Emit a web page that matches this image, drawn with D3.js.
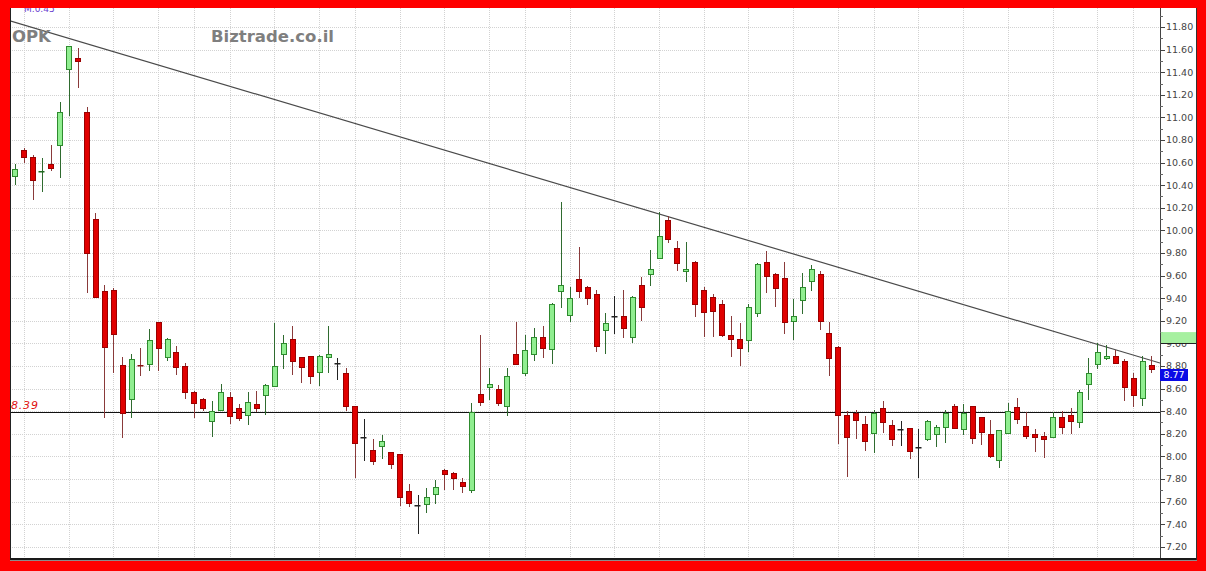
<!DOCTYPE html>
<html><head><meta charset="utf-8">
<script src="https://cdn.jsdelivr.net/npm/d3@7"></script>
<style>html,body{margin:0;padding:0;background:#fff;}svg{display:block;}</style>
</head><body>
<svg id="c" width="1206" height="571"></svg>
<script>
const symbol = "OPK";
const site = "Biztrade.co.il";
const topNote = "M.0.45";
const openV = [10.48,10.71,10.65,10.52,10.59,10.76,11.43,11.53,11.05,10.10,
9.46,9.47,8.81,8.51,8.81,8.82,9.19,8.88,8.92,8.80,
8.57,8.51,8.31,8.41,8.53,8.43,8.37,8.46,8.54,8.62,
8.91,9.04,8.88,8.89,8.75,8.88,8.83,8.74,8.45,8.17,
8.06,8.09,8.04,8.02,7.69,7.57,7.58,7.67,7.88,7.85,
7.77,7.70,8.55,8.61,8.60,8.45,8.91,8.74,8.91,9.06,
8.95,9.46,9.25,9.57,9.50,9.44,9.12,9.24,9.24,9.06,
9.52,9.61,9.76,10.09,9.84,9.64,9.72,9.47,9.41,9.35,
9.07,9.04,9.03,9.27,9.72,9.61,9.58,9.20,9.38,9.55,
9.61,9.09,8.97,8.37,8.38,8.29,8.21,8.43,8.28,8.24,
8.25,8.08,8.15,8.20,8.26,8.45,8.24,8.45,8.35,8.20,
7.97,8.21,8.44,8.27,8.20,8.18,8.17,8.35,8.37,8.30,
8.64,8.82,8.87,8.89,8.84,8.69,8.52,8.81];
const highV = [10.59,10.73,10.67,10.64,10.76,11.14,11.63,11.61,11.09,10.15,
9.52,9.49,8.88,8.91,8.96,9.13,9.19,9.05,8.98,8.83,
8.58,8.52,8.49,8.64,8.57,8.46,8.57,8.58,8.64,9.18,
9.07,9.15,8.88,8.89,8.90,9.15,8.87,8.78,8.45,8.33,
8.15,8.19,8.04,8.02,7.76,7.66,7.72,7.79,7.89,7.86,
7.81,8.47,9.07,8.78,8.63,8.78,9.19,9.07,9.14,9.15,
9.36,10.25,9.50,9.85,9.51,9.47,9.27,9.42,9.47,9.42,
9.59,9.83,10.16,10.13,9.91,9.90,9.73,9.50,9.44,9.38,
9.24,9.18,9.35,9.71,9.82,9.62,9.72,9.39,9.62,9.69,
9.64,9.19,8.98,8.40,8.41,8.36,8.41,8.49,8.32,8.31,
8.25,8.24,8.32,8.28,8.41,8.46,8.46,8.45,8.35,8.32,
8.23,8.47,8.52,8.39,8.24,8.22,8.39,8.40,8.43,8.59,
8.87,9.00,8.99,8.94,8.86,8.74,8.89,8.89];
const lowV = [10.40,10.60,10.27,10.34,10.53,10.46,11.01,11.26,9.45,9.41,
8.34,8.74,8.16,8.34,8.71,8.76,8.76,8.84,8.72,8.51,
8.34,8.40,8.17,8.40,8.29,8.31,8.28,8.39,8.37,8.62,
8.77,8.72,8.65,8.64,8.62,8.74,8.68,8.40,7.81,7.96,
7.92,7.98,7.89,7.56,7.55,7.31,7.50,7.58,7.70,7.70,
7.68,7.68,8.45,8.50,8.45,8.36,8.81,8.71,8.84,8.87,
8.82,9.31,9.19,9.40,9.34,8.92,8.91,9.08,9.05,9.00,
9.20,9.51,9.76,9.89,9.64,9.54,9.23,9.06,9.06,9.06,
8.88,8.80,8.92,9.23,9.45,9.32,9.08,9.03,9.26,9.46,
9.12,8.71,8.11,7.82,8.15,8.05,8.03,8.21,8.09,8.09,
7.98,7.81,8.14,8.08,8.12,8.24,8.19,8.11,8.10,7.99,
7.90,8.20,8.29,8.15,8.04,7.99,8.17,8.20,8.20,8.25,
8.50,8.77,8.85,8.83,8.49,8.44,8.45,8.74];
const closeV = [10.54,10.65,10.45,10.53,10.55,11.05,11.63,11.50,9.80,9.41,
8.97,9.08,8.38,8.86,8.80,9.03,8.96,9.04,8.79,8.57,
8.47,8.43,8.40,8.57,8.36,8.34,8.48,8.43,8.63,8.80,
9.00,8.84,8.79,8.71,8.89,8.91,8.83,8.45,8.12,8.17,
7.96,8.14,7.93,7.64,7.59,7.57,7.64,7.73,7.84,7.81,
7.74,8.39,8.48,8.64,8.47,8.71,8.82,8.94,9.06,8.96,
9.35,9.52,9.40,9.46,9.40,8.98,9.18,9.24,9.14,9.41,
9.32,9.66,9.95,9.92,9.71,9.66,9.35,9.28,9.29,9.07,
9.04,8.96,9.32,9.70,9.60,9.49,9.19,9.24,9.50,9.66,
9.20,8.87,8.37,8.17,8.32,8.14,8.38,8.30,8.15,8.24,
8.05,8.08,8.31,8.26,8.38,8.25,8.38,8.16,8.22,8.00,
8.23,8.40,8.33,8.18,8.17,8.15,8.35,8.26,8.31,8.57,
8.74,8.92,8.89,8.83,8.61,8.54,8.84,8.77];
const yTickLabels = ["7.20","7.40","7.60","7.80","8.00","8.20","8.40","8.60","8.80","9.00","9.20","9.40","9.60","9.80","10.00","10.20","10.40","10.60","10.80","11.00","11.20","11.40","11.60","11.80"];
const minorTicks = [7.3,7.5,7.7,7.9,8.1,8.3,8.5,8.7,8.9,9.1,9.3,9.5,9.7,9.9,10.1,10.3,10.5,10.7,10.9,11.1,11.3,11.5,11.7,11.9];
const weekGridIdx = [2,7,12,17,21,25,30,35,39,44,49,54,58,63,68,73,78,83,88,93,97,102,107,112,117,122,126];
const supportLevel = 8.39;
const lastPrice = 8.77;
const markerBand = [9.00, 9.10];
const trendAnchors = [[7, 11.70], [128, 8.85]];

const W = 1206, H = 571;
const plot = {l: 10, r: 1160, t: 8, b: 558};
const svg = d3.select("#c");
const n = openV.length;
const idx = d3.range(1, n + 1);

const x = d3.scaleBand().domain(idx).range([10.5, 1155.5]).padding(0);
const xc = i => x(i) + x.bandwidth() / 2;
const y = d3.scaleLinear().domain([7.2, 11.8]).range([546.8, 27]);

svg.append("rect").attr("x", 0).attr("y", 0).attr("width", W).attr("height", H).attr("fill", "#fff");

const defs = svg.append("defs");
defs.append("clipPath").attr("id", "pc").append("rect")
  .attr("x", plot.l).attr("y", plot.t).attr("width", plot.r - plot.l).attr("height", plot.b - plot.t);

const g = svg.append("g").attr("clip-path", "url(#pc)");

const gridCol = "#d2d2d2";
g.append("g").selectAll("line").data(yTickLabels.map(Number)).join("line")
  .attr("x1", plot.l).attr("x2", plot.r)
  .attr("y1", d => Math.round(y(d)) + 0.5).attr("y2", d => Math.round(y(d)) + 0.5)
  .attr("stroke", gridCol).attr("stroke-width", 1).attr("stroke-dasharray", "1,1");
g.append("g").selectAll("line").data(weekGridIdx).join("line")
  .attr("x1", d => Math.round(xc(d)) + 0.5).attr("x2", d => Math.round(xc(d)) + 0.5)
  .attr("y1", plot.t).attr("y2", plot.b)
  .attr("stroke", gridCol).attr("stroke-width", 1).attr("stroke-dasharray", "1,1");

g.append("line").attr("x1", plot.l).attr("x2", plot.r)
  .attr("y1", Math.round(y(supportLevel)) + 0.5).attr("y2", Math.round(y(supportLevel)) + 0.5)
  .attr("stroke", "#111").attr("stroke-width", 1);

const [a1, a2] = trendAnchors;
const px1 = xc(a1[0]), py1 = y(a1[1]), px2 = xc(a2[0]), py2 = y(a2[1]);
const slope = (py2 - py1) / (px2 - px1);
g.append("line")
  .attr("x1", plot.l).attr("y1", py1 + (plot.l - px1) * slope)
  .attr("x2", plot.r).attr("y2", py1 + (plot.r - px1) * slope)
  .attr("stroke", "#4a4a4a").attr("stroke-width", 1.2);

const bw = 5;
const candles = g.append("g").selectAll("g").data(idx).join("g");
candles.each(function(i) {
  const k = i - 1;
  const o = openV[k], c = closeV[k], h = highV[k], l = lowV[k];
  const up = c > o, flat = c === o;
  const sel = d3.select(this);
  const cx = Math.round(xc(i)) + 0.5;
  const wickCol = flat ? "#222" : (up ? "#2f6b2f" : "#8a3a3a");
  sel.append("line").attr("x1", cx).attr("x2", cx)
    .attr("y1", Math.round(y(h))).attr("y2", Math.round(y(l)))
    .attr("stroke", wickCol).attr("stroke-width", 1);
  const top = Math.round(y(Math.max(o, c))), bot = Math.round(y(Math.min(o, c)));
  const hgt = bot - top;
  const left = Math.round(xc(i) - bw / 2);
  if (flat || hgt < 2) {
    sel.append("rect").attr("x", left - 0.5).attr("y", top).attr("width", bw + 1).attr("height", 1.5)
      .attr("fill", flat ? "#222" : (up ? "#1f6a1f" : "#8b1010"));
  } else {
    sel.append("rect").attr("x", left + 0.5).attr("y", top + 0.5).attr("width", bw).attr("height", hgt)
      .attr("fill", up ? "#90ee90" : "#e00000")
      .attr("stroke", up ? "#2e8b2e" : "#9a0000").attr("stroke-width", 1);
  }
});

svg.append("text").attr("x", 11).attr("y", 409).text(supportLevel.toFixed(2))
  .attr("font-family", "DejaVu Sans").attr("font-size", 11).attr("font-style", "italic")
  .attr("letter-spacing", 0.8).attr("fill", "#e01010");

svg.append("text").attr("x", 12).attr("y", 42).text(symbol)
  .attr("font-family", "DejaVu Sans").attr("font-weight", "bold").attr("font-size", 16.5).attr("fill", "#7f7f7f");
svg.append("text").attr("x", 211).attr("y", 42).text(site)
  .attr("font-family", "DejaVu Sans").attr("font-weight", "bold").attr("font-size", 16.5).attr("fill", "#7f7f7f");

svg.append("line").attr("x1", 10.5).attr("x2", 10.5).attr("y1", plot.t).attr("y2", plot.b).attr("stroke", "#222");
svg.append("line").attr("x1", 1160.5).attr("x2", 1160.5).attr("y1", plot.t).attr("y2", plot.b + 1).attr("stroke", "#444");
svg.append("rect").attr("x", 10).attr("y", 558).attr("width", 1187).attr("height", 2.5).attr("fill", "#1a1a1a");
svg.append("line").attr("x1", 1196.5).attr("x2", 1196.5).attr("y1", plot.t).attr("y2", 560).attr("stroke", "#333");

const ax = svg.append("g");
ax.selectAll("line.mj").data(yTickLabels).join("line").attr("class", "mj")
  .attr("x1", 1160).attr("x2", 1165)
  .attr("y1", d => Math.round(y(+d)) + 0.5).attr("y2", d => Math.round(y(+d)) + 0.5)
  .attr("stroke", "#444");
ax.selectAll("line.mn").data(minorTicks.filter(v => y(v) > plot.t && y(v) < plot.b)).join("line").attr("class", "mn")
  .attr("x1", 1160).attr("x2", 1163)
  .attr("y1", d => Math.round(y(d)) + 0.5).attr("y2", d => Math.round(y(d)) + 0.5)
  .attr("stroke", "#666");
ax.selectAll("text").data(yTickLabels).join("text")
  .attr("x", 1166).attr("y", d => y(+d)).attr("dy", "0.36em")
  .text(d => d)
  .attr("font-family", "DejaVu Sans").attr("font-size", 9.5).attr("fill", "#444");

svg.append("rect").attr("x", 1161).attr("y", y(markerBand[1])).attr("width", 35)
  .attr("height", y(markerBand[0]) - y(markerBand[1])).attr("fill", "#a6f0a0");
svg.append("line").attr("x1", 1161).attr("x2", 1196)
  .attr("y1", Math.round(y(markerBand[0])) + 0.5).attr("y2", Math.round(y(markerBand[0])) + 0.5).attr("stroke", "#222");

const ly = Math.round(y(lastPrice));
svg.append("rect").attr("x", 1160).attr("y", ly).attr("width", 28).attr("height", 12).attr("fill", "#0a0ae6");
svg.append("text").attr("x", 1174).attr("y", ly + 6).attr("dy", "0.36em").attr("text-anchor", "middle")
  .text(lastPrice.toFixed(2)).attr("font-family", "DejaVu Sans").attr("font-size", 9.5).attr("fill", "#fff");

svg.append("text").attr("x", 24).attr("y", 12).text(topNote)
  .attr("font-family", "DejaVu Sans").attr("font-size", 9).attr("fill", "#6a3fd0");

svg.append("path").attr("fill-rule", "evenodd").attr("fill", "#ff0000")
  .attr("d", `M0,0H${W}V${H}H0Z M10,8V561H1197V8Z`);
</script>
</body></html>
